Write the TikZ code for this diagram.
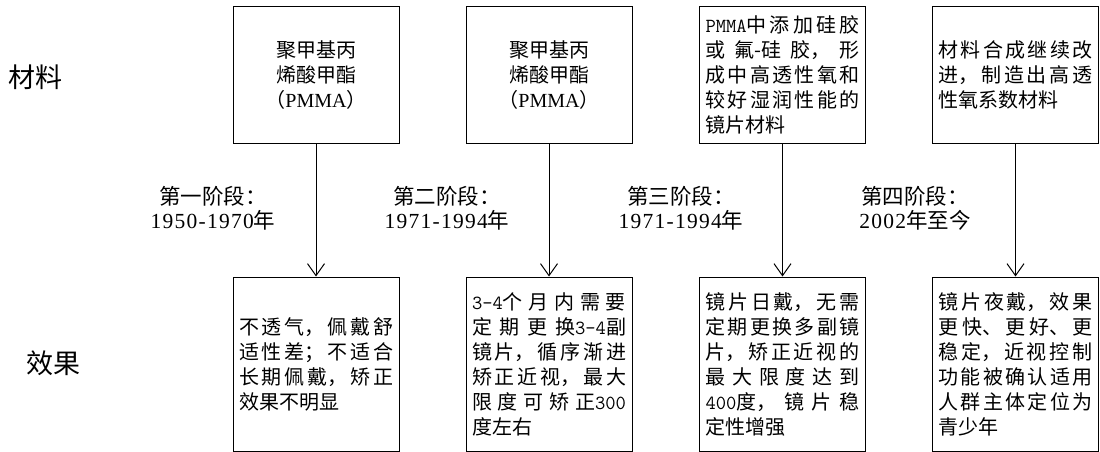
\documentclass[tikz,border=0pt]{standalone}
\usepackage{fontspec}
\setmainfont{Liberation Serif}
\newfontfamily\cjk{Noto Sans CJK SC}
\newfontfamily\stagenum{Liberation Serif}[LetterSpace=6]
\usetikzlibrary{arrows.meta}
\XeTeXlinebreaklocale "zh"
\XeTeXlinebreakskip=0pt plus 4pt
\XeTeXlinebreakpenalty=0
\tolerance=9999
\pretolerance=-1
\tikzset{
  frame/.style={draw, line width=1pt, inner xsep=0pt, inner ysep=0pt},
  topbox/.style={frame, minimum width=166pt, minimum height=136pt},
  botbox/.style={frame, minimum width=166pt, minimum height=174pt},
  ctext/.style={align=center, font=\cjk\fontsize{20}{25}\selectfont},
  jtext/.style={text width=154pt, align=justify, font=\cjk\fontsize{20}{25}\selectfont},
  rowlabel/.style={font=\cjk\fontsize{27}{30}\selectfont},
  stage/.style={align=center, font=\stagenum\fontsize{21.5}{24}\selectfont},
  link/.style={line width=1pt, -{Straight Barb[length=12pt,width=17pt]}},
}
\begin{document}
\begin{tikzpicture}[x=1pt,y=-1pt]
\useasboundingbox (0,0) rectangle (1100,452);
% row labels
\node[rowlabel] (lmat) at (36,77) {材料};
\node[rowlabel] (leff) at (54,363) {效果};
% top boxes
\node[topbox,ctext] (t1) at (316,75) {聚甲基丙\\烯酸甲酯\\（{\rmfamily PMMA}）};
\node[topbox,ctext] (t2) at (549,75) {聚甲基丙\\烯酸甲酯\\（{\rmfamily PMMA}）};
\node[topbox,jtext] (t3) at (782.5,75) {{\ttfamily PMMA}中添加硅胶\linebreak 或氟-硅胶，形\linebreak 成中高透性氧和\linebreak 较好湿润性能的\linebreak 镜片材料};
\node[topbox,jtext] (t4) at (1015.5,75) {材料合成继续改\linebreak 进，制造出高透\linebreak 性氧系数材料};
% bottom boxes
\node[botbox,jtext] (b1) at (316,364) {不透气，佩戴舒\linebreak 适性差；不适合\linebreak 长期佩戴，矫正\linebreak 效果不明显};
\node[botbox,jtext] (b2) at (549,364) {{\ttfamily 3-4}个月内需要\linebreak 定期更换{\ttfamily 3-4}副\linebreak 镜片，循序渐进\linebreak 矫正近视，最大\linebreak 限度可矫正{\ttfamily 300}\linebreak 度左右};
\node[botbox,jtext] (b3) at (782.5,364) {镜片日戴，无需\linebreak 定期更换多副镜\linebreak 片，矫正近视的\linebreak 最大限度达到\linebreak {\ttfamily 400}度，镜片稳\linebreak 定性增强};
\node[botbox,jtext] (b4) at (1015.5,364) {镜片夜戴，效果\linebreak 更快、更好、更\linebreak 稳定，近视控制\linebreak 功能被确认适用\linebreak 人群主体定位为\linebreak 青少年};
% stage labels
\node[stage] (s1) at (213,208) {{\cjk 第一阶段：}\\1950-1970{\cjk 年}};
\node[stage] (s2) at (447,208) {{\cjk 第二阶段：}\\1971-1994{\cjk 年}};
\node[stage] (s3) at (681,208) {{\cjk 第三阶段：}\\1971-1994{\cjk 年}};
\node[stage] (s4) at (915,208) {{\cjk 第四阶段：}\\2002{\cjk 年至今}};
% connectors
\draw[link] (t1) -- (b1);
\draw[link] (t2) -- (b2);
\draw[link] (t3) -- (b3);
\draw[link] (t4) -- (b4);
\end{tikzpicture}
\end{document}
